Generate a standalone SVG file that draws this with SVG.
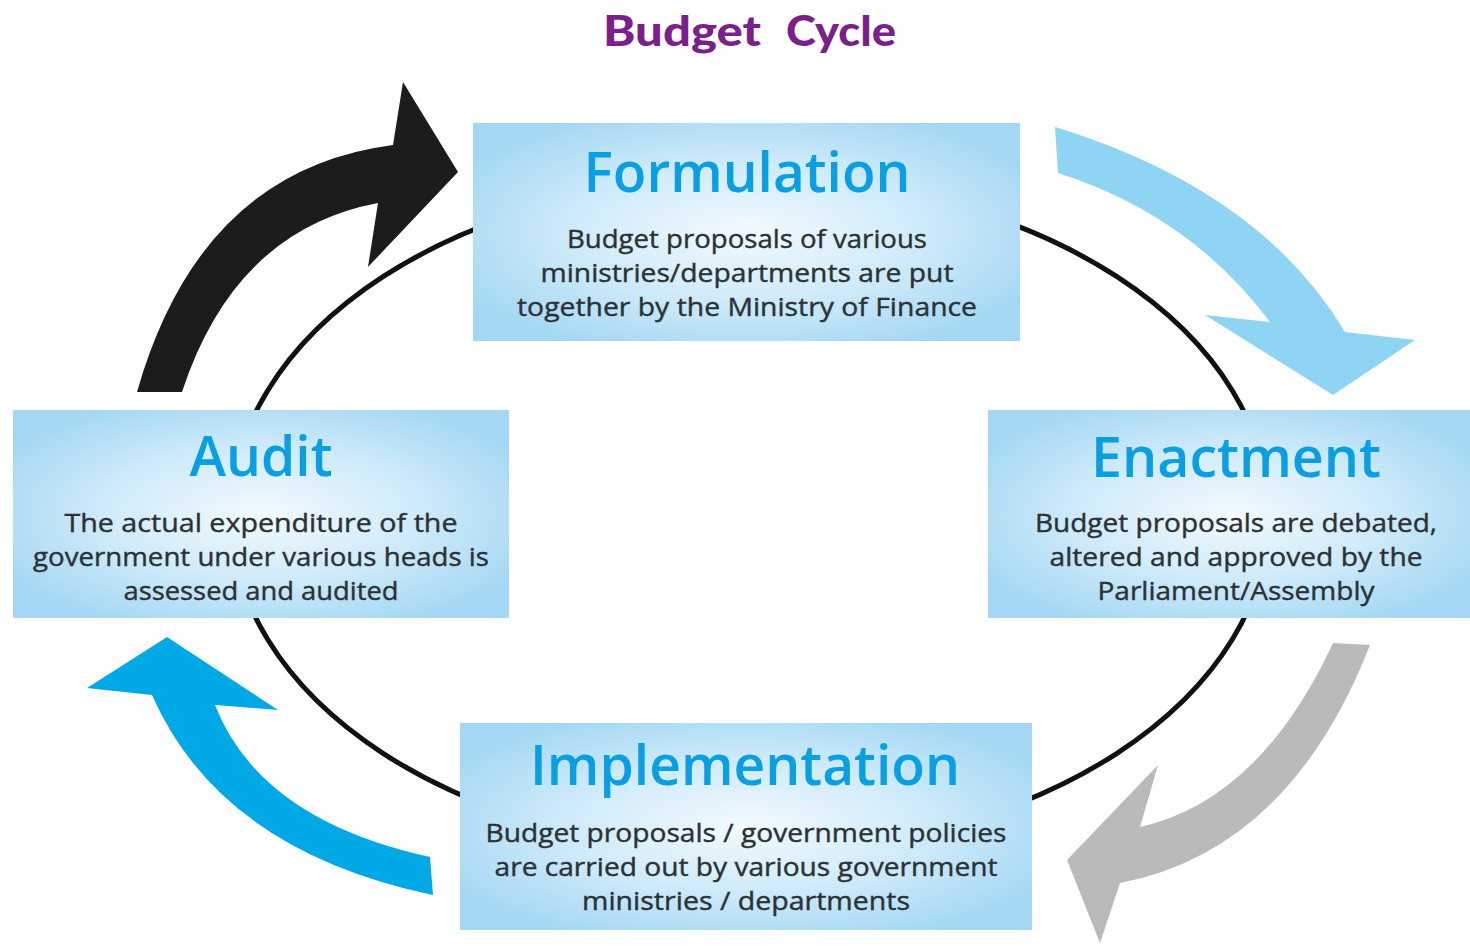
<svg xmlns="http://www.w3.org/2000/svg" width="1470" height="946" viewBox="0 0 1470 946">
  <defs>
    <radialGradient id="boxGrad" cx="50%" cy="50%" r="60%">
      <stop offset="0%" stop-color="#f3fafe"/>
      <stop offset="55%" stop-color="#cdeafa"/>
      <stop offset="100%" stop-color="#a3d7f3"/>
    </radialGradient>
    <style>
      .box { fill: url(#boxGrad); }
      .head { font-family: "Open Sans", "DejaVu Sans", sans-serif; font-weight: 600; fill: #0a9fe2; text-anchor: middle; }
      .body { font-family: "Open Sans", "DejaVu Sans", sans-serif; font-weight: 400; fill: #2c3136; text-anchor: middle; font-size: 26px; stroke: #2c3136; stroke-width: 0.4; }
      .title { font-family: "Lato", "Liberation Sans", sans-serif; font-weight: 900; fill: #7b1f8d; font-size: 42px; }
    </style>
  </defs>
  <rect width="1470" height="946" fill="#ffffff"/>

  <text class="title" y="46"><tspan x="603" textLength="158" lengthAdjust="spacingAndGlyphs">Budget</tspan><tspan x="786" textLength="110" lengthAdjust="spacingAndGlyphs">Cycle</tspan></text>

  <g id="connectors">
    <ellipse cx="750" cy="515" rx="519" ry="337" fill="none" stroke="#111111" stroke-width="5"/>
    <path id="arrow-audit-formulation" fill="#1c1c1c" d="M137,392 Q200,170 393,145 L403,82 L458,172 L368,267 L378,203 Q235,230 182,392 Z"/>
    <path id="arrow-formulation-enactment" fill="#8fd4f3" d="M1055,127 Q1260,190 1345,332 L1415,340 L1333,395 L1205,315 L1270,322 Q1190,215 1058,173 Z"/>
    <path id="arrow-enactment-implementation" fill="#b9babb" d="M1370,645 Q1290,850 1120,883 L1100,943 L1067,860 L1158,765 L1140,827 Q1260,800 1333,643 Z"/>
    <path id="arrow-implementation-audit" fill="#00a8e6" d="M433,895 Q220,850 152,695 L87,688 L167,637 L278,710 L215,705 Q260,820 430,857 Z"/>
  </g>

  <g id="formulation">
    <rect class="box" x="473" y="123" width="547" height="218"/>
    <text class="head" x="747" y="192" font-size="56" textLength="327" lengthAdjust="spacingAndGlyphs">Formulation</text>
    <text class="body" x="747" y="248" textLength="360" lengthAdjust="spacingAndGlyphs">Budget proposals of various</text>
    <text class="body" x="747" y="282" textLength="413" lengthAdjust="spacingAndGlyphs">ministries/departments are put</text>
    <text class="body" x="747" y="316" textLength="460" lengthAdjust="spacingAndGlyphs">together by the Ministry of Finance</text>
  </g>

  <g id="audit">
    <rect class="box" x="13" y="410" width="496" height="208"/>
    <text class="head" x="261" y="476" font-size="56" textLength="143" lengthAdjust="spacingAndGlyphs">Audit</text>
    <text class="body" x="261" y="532" textLength="393" lengthAdjust="spacingAndGlyphs">The actual expenditure of the</text>
    <text class="body" x="261" y="566" textLength="456" lengthAdjust="spacingAndGlyphs">government under various heads is</text>
    <text class="body" x="261" y="600" textLength="275" lengthAdjust="spacingAndGlyphs">assessed and audited</text>
  </g>

  <g id="enactment">
    <rect class="box" x="988" y="410" width="482" height="208"/>
    <text class="head" x="1236" y="477" font-size="56" textLength="290" lengthAdjust="spacingAndGlyphs">Enactment</text>
    <text class="body" x="1236" y="532" textLength="402" lengthAdjust="spacingAndGlyphs">Budget proposals are debated,</text>
    <text class="body" x="1236" y="566" textLength="373" lengthAdjust="spacingAndGlyphs">altered and approved by the</text>
    <text class="body" x="1236" y="600" textLength="277" lengthAdjust="spacingAndGlyphs">Parliament/Assembly</text>
  </g>

  <g id="implementation">
    <rect class="box" x="460" y="723" width="572" height="207"/>
    <text class="head" x="745" y="785" font-size="56" textLength="430" lengthAdjust="spacingAndGlyphs">Implementation</text>
    <text class="body" x="746" y="842" textLength="521" lengthAdjust="spacingAndGlyphs">Budget proposals / government policies</text>
    <text class="body" x="746" y="876" textLength="503" lengthAdjust="spacingAndGlyphs">are carried out by various government</text>
    <text class="body" x="746" y="910" textLength="328" lengthAdjust="spacingAndGlyphs">ministries / departments</text>
  </g>
</svg>
